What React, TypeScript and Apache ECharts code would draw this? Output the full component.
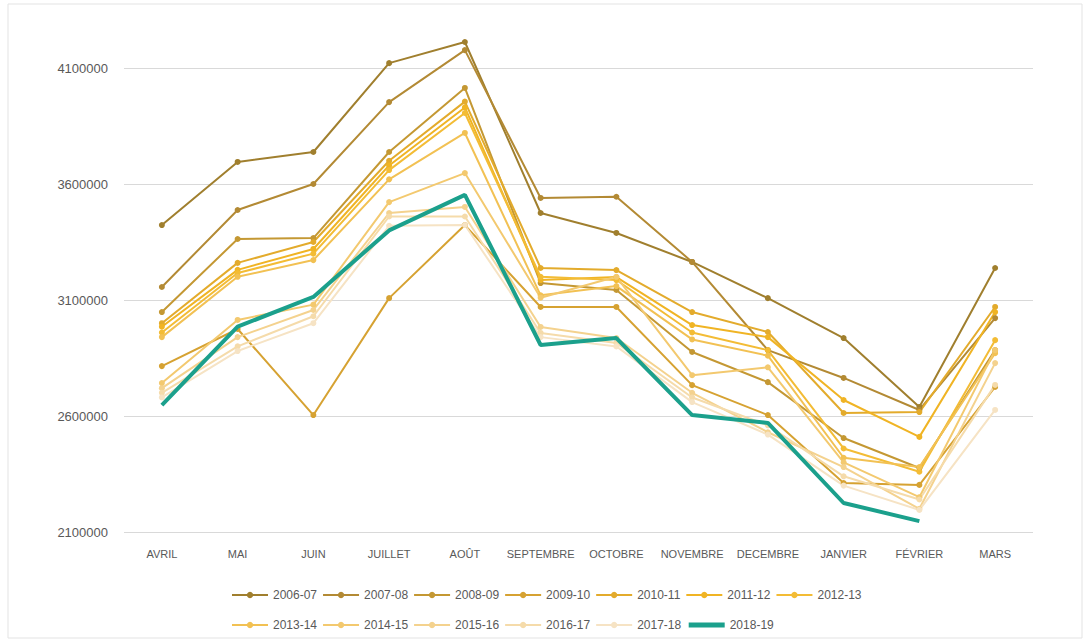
import React, { useEffect, useRef } from "react";
import * as echarts from "echarts";

const months = ["AVRIL", "MAI", "JUIN", "JUILLET", "AOÛT", "SEPTEMBRE", "OCTOBRE", "NOVEMBRE", "DECEMBRE", "JANVIER", "FÉVRIER", "MARS"];

const s0607 = [3423000, 3695000, 3738000, 4121000, 4212000, 3475000, 3389000, 3264000, 3108000, 2936000, 2639000, 3238000];
const s0708 = [3156000, 3488000, 3600000, 3953000, 4177000, 3540000, 3545000, 3264000, 2884000, 2764000, 2626000, 3022000];
const s0809 = [3048000, 3363000, 3367000, 3738000, 4014000, 3173000, 3143000, 2876000, 2746000, 2505000, 2376000, 2884000];
const s0910 = [2815000, 2975000, 2604000, 3108000, 3423000, 3070000, 3070000, 2733000, 2604000, 2311000, 2303000, 2725000];
const s1011 = [3000000, 3260000, 3350000, 3700000, 3955000, 3238000, 3229000, 3048000, 2962000, 2613000, 2617000, 3070000];
const s1112 = [2985000, 3230000, 3320000, 3680000, 3930000, 3186000, 3199000, 2992000, 2940000, 2669000, 2510000, 3048000];
const s1213 = [2960000, 3216000, 3300000, 3660000, 3906000, 3200000, 3186000, 2960000, 2884000, 2460000, 2360000, 2927000];
const s1314 = [2940000, 3200000, 3272000, 3620000, 3820000, 3120000, 3160000, 2930000, 2860000, 2420000, 2380000, 2871000];
const s1415 = [2742000, 3014000, 3080000, 3522000, 3647000, 3110000, 3200000, 2776000, 2810000, 2400000, 2250000, 2884000];
const s1516 = [2720000, 2940000, 3057000, 3475000, 3501000, 2984000, 2936000, 2700000, 2530000, 2380000, 2200000, 2828000];
const s1617 = [2700000, 2900000, 3030000, 3460000, 3460000, 2958000, 2915000, 2680000, 2560000, 2340000, 2240000, 2734000];
const s1718 = [2680000, 2880000, 3000000, 3420000, 3423000, 2940000, 2900000, 2660000, 2520000, 2300000, 2195000, 2626000];
const s1819 = [2647000, 2985000, 3113000, 3400000, 3553000, 2906000, 2936000, 2604000, 2570000, 2225000, 2147000, null];

const seriesNames = ["2006-07", "2007-08", "2008-09", "2009-10", "2010-11", "2011-12", "2012-13", "2013-14", "2014-15", "2015-16", "2016-17", "2017-18", "2018-19"];
const seriesData = [s0607, s0708, s0809, s0910, s1011, s1112, s1213, s1314, s1415, s1516, s1617, s1718, s1819];
const seriesColors = ["#A07F2E", "#B38A34", "#C49833", "#D6A232", "#E3AB2C", "#F0B424", "#F3BC35", "#F2C153", "#F3C96F", "#F4D28E", "#F5DBAA", "#F6E3C4", "#1BA08C"];

export default function App() {
  const ref = useRef<HTMLDivElement>(null);
  useEffect(() => {
    const chart = echarts.init(ref.current!, undefined, { renderer: "svg" });
    const fontFamily = "'Liberation Sans', Arial, sans-serif";
    const lastIdx = seriesNames.length - 1;
    const series = seriesNames.map((name, i) => {
      const teal = i === lastIdx;
      return {
        name,
        type: "line",
        data: seriesData[i],
        clip: false,
        symbol: teal ? "none" : "circle",
        symbolSize: 6,
        showSymbol: !teal,
        z: teal ? 10 : 2,
        itemStyle: { color: seriesColors[i] },
        lineStyle: { color: seriesColors[i], width: teal ? 4 : 2 },
      };
    });
    const legendItems = seriesNames.map((name, i) =>
      i === lastIdx
        ? { name, itemStyle: { opacity: 0 }, lineStyle: { width: 5 } }
        : { name }
    );
    const legendCommon = {
      itemWidth: 36,
      itemHeight: 8,
      itemGap: 5,
      textStyle: { color: "#595959", fontSize: 12, fontFamily },
    };
    chart.setOption({
      animation: false,
      backgroundColor: "#ffffff",
      grid: { left: 124, right: 57, top: 68, bottom: 111 },
      legend: [
        { ...legendCommon, left: 226, top: 584, data: legendItems.slice(0, 7) },
        { ...legendCommon, left: 226, top: 614, data: legendItems.slice(7) },
      ],
      xAxis: {
        type: "category",
        data: months,
        boundaryGap: true,
        axisLine: { show: false },
        axisTick: { show: false },
        axisLabel: { color: "#595959", fontSize: 11, fontFamily, margin: 16, interval: 0 },
      },
      yAxis: {
        type: "value",
        min: 2100000,
        max: 4100000,
        interval: 500000,
        axisLine: { show: false },
        axisTick: { show: false },
        axisLabel: {
          color: "#595959",
          fontSize: 13,
          fontFamily,
          margin: 16,
          formatter: (v: number) => String(v),
        },
        splitLine: { lineStyle: { color: "#d9d9d9", width: 1 } },
      },
      graphic: [
        {
          type: "rect",
          shape: { x: 8, y: 4, width: 1074, height: 634 },
          style: { fill: "none", stroke: "#e3e3e3", lineWidth: 1 },
          silent: true,
        },
      ],
      series,
    });
    return () => chart.dispose();
  }, []);
  return (
    <div
      ref={ref}
      style={{ position: "absolute", left: 0, top: 0, width: 1090, height: 643 }}
    />
  );
}
